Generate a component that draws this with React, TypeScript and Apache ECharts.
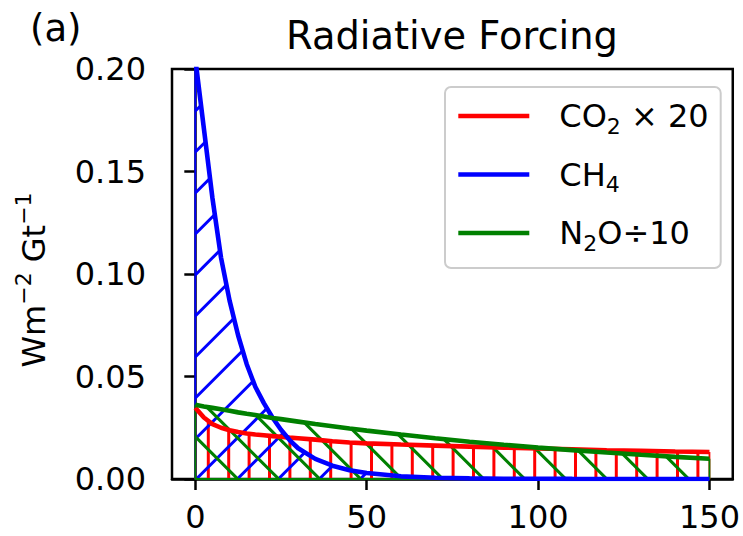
import React, { useEffect, useRef } from 'react';
import * as echarts from 'echarts';

// Time axis (years) shared by all curves
const years = [0, 2.5, 5, 7.5, 10, 12.5, 15, 17.5, 20, 22.5, 25, 27.5, 30, 35, 40, 45, 50, 60, 70, 80, 90, 100, 110, 120, 130, 140, 150];
// CO2 forcing x 20 (Wm-2 Gt-1)
const co2x20 = [0.0348, 0.0300, 0.0268, 0.0250, 0.0238, 0.0229, 0.0222, 0.0217, 0.0213, 0.0209, 0.0206, 0.0202, 0.0199, 0.0192, 0.0184, 0.0178, 0.0174, 0.0168, 0.0163, 0.0158, 0.0153, 0.0149, 0.0145, 0.0140, 0.0137, 0.0134, 0.0132];
// CH4 forcing
const ch4 = [0.205, 0.171, 0.137, 0.108, 0.087, 0.070, 0.056, 0.045, 0.037, 0.030, 0.024, 0.019, 0.015, 0.0098, 0.0065, 0.0043, 0.0029, 0.0013, 0.0006, 0.0003, 0.00015, 0.0001, 0.00005, 0.00002, 0.00001, 0, 0];
// N2O forcing / 10
const n2oDiv10 = [0.0362, 0.0354, 0.0347, 0.0340, 0.0333, 0.0325, 0.0318, 0.0312, 0.0305, 0.0298, 0.0292, 0.0286, 0.0280, 0.0268, 0.0257, 0.0246, 0.0236, 0.0217, 0.0199, 0.0182, 0.0167, 0.0153, 0.0141, 0.0129, 0.0118, 0.0108, 0.0099];

const xTicks = [0, 50, 100, 150];
const seriesNames = ['CO2', 'CH4', 'N2O'];
const legendLabels: Record<string, string> = {
  CO2: '{f|CO}{sub|2}{n| × 20}',
  CH4: '{f|CH}{sub|4}',
  N2O: '{f|N}{sub|2}{n|O÷10}',
};

const FONT = 'DejaVu Sans';
const RED = '#ff0000';
const BLUE = '#0000ff';
const GREEN = '#008000';

const pairs = (vals: number[]) => years.map((t, i) => [t, vals[i]]);
const edge = (vals: number[]) => [
  [years[0], vals[0]],
  [years[0], 0],
  [years[years.length - 1], 0],
  [years[years.length - 1], vals[vals.length - 1]],
];

type Hatch = { kind: 'v' | 'ne' | 'nw'; spacing: number; phase: number; width: number };

function hatchSeries(name: string, vals: number[], color: string, h: Hatch) {
  return {
    name: name + ' hatch',
    type: 'custom',
    coordinateSystem: 'cartesian2d',
    data: [[years[0], vals[0]]],
    silent: true,
    clip: true,
    renderItem: (params: any, api: any) => {
      const pts: number[][] = years.map((t, i) => api.coord([t, vals[i]]));
      const baseY = api.coord([years[0], 0])[1];
      const xL = pts[0][0];
      const xR = pts[pts.length - 1][0];
      const topY = params.coordSys.y;
      const curveY = (x: number) => {
        for (let i = 1; i < pts.length; i++) {
          if (x <= pts[i][0]) {
            const [ax, ay] = pts[i - 1];
            const [bx, by] = pts[i];
            const f = bx === ax ? 0 : (x - ax) / (bx - ax);
            return Math.max(topY, ay + f * (by - ay));
          }
        }
        return pts[pts.length - 1][1];
      };
      const children: any[] = [];
      const seg = (x1: number, y1: number, x2: number, y2: number) => {
        if (Math.hypot(x2 - x1, y2 - y1) < 0.5) return;
        children.push({
          type: 'line',
          shape: { x1, y1, x2, y2 },
          style: { stroke: color, lineWidth: h.width, fill: null },
        });
      };
      if (h.kind === 'v') {
        let x = h.phase + Math.ceil((xL - h.phase) / h.spacing) * h.spacing;
        for (; x <= xR; x += h.spacing) seg(x, baseY, x, curveY(x));
      } else {
        const s = h.kind === 'ne' ? -1 : 1; // y = c + s*x
        const cs = [xL, xR].flatMap((x) => [baseY - s * x, topY - s * x]);
        const cMin = Math.min(...cs);
        const cMax = Math.max(...cs);
        let c = h.phase + Math.ceil((cMin - h.phase) / h.spacing) * h.spacing;
        for (; c <= cMax; c += h.spacing) {
          let start: number[] | null = null;
          let prev: number[] | null = null;
          for (let x = xL; x <= xR + 1e-6; x += 0.5) {
            const y = c + s * x;
            const inside = y <= baseY && y >= curveY(x);
            if (inside) {
              if (!start) start = [x, y];
              prev = [x, y];
            } else if (start && prev) {
              seg(start[0], start[1], prev[0], prev[1]);
              start = null;
            }
          }
          if (start && prev) seg(start[0], start[1], prev[0], prev[1]);
        }
      }
      return { type: 'group', children };
    },
  };
}

function edgeSeries(name: string, vals: number[], color: string) {
  return {
    name: name + ' edge',
    type: 'line',
    data: edge(vals),
    symbol: 'none',
    showSymbol: false,
    silent: true,
    lineStyle: { color, width: 1.8 },
    itemStyle: { color },
    clip: true,
  };
}

function mainSeries(name: string, vals: number[], color: string) {
  return {
    name,
    type: 'line',
    data: pairs(vals),
    symbol: 'none',
    showSymbol: false,
    silent: true,
    lineStyle: { color, width: 4.6 },
    itemStyle: { color },
    clip: true,
  };
}

export default function App() {
  const ref = useRef<HTMLDivElement>(null);
  useEffect(() => {
    const chart = echarts.init(ref.current!, undefined, { renderer: 'svg' });
    const option: any = {
      animation: false,
      backgroundColor: '#ffffff',
      textStyle: { fontFamily: FONT },
      grid: {
        left: 172,
        right: 8,
        top: 69,
        bottom: 57,
        show: true,
        borderColor: '#000',
        borderWidth: 2.5,
        backgroundColor: 'transparent',
      },
      xAxis: {
        type: 'value',
        min: -6.8,
        max: 156.8,
        splitLine: { show: false },
        axisLine: { show: true, onZero: false, lineStyle: { color: '#000', width: 2.5 } },
        axisTick: { show: true, length: 11, lineStyle: { color: '#000', width: 2.5 }, customValues: xTicks },
        axisLabel: { color: '#000', fontSize: 32, fontFamily: FONT, margin: 22, customValues: xTicks },
      },
      yAxis: {
        type: 'value',
        min: 0,
        max: 0.2,
        interval: 0.05,
        splitLine: { show: false },
        axisLine: { show: true, lineStyle: { color: '#000', width: 2.5 } },
        axisTick: { show: true, length: 11, lineStyle: { color: '#000', width: 2.5 } },
        axisLabel: {
          color: '#000',
          fontSize: 32,
          fontFamily: FONT,
          margin: 26,
          formatter: (v: number) => v.toFixed(2),
        },
      },
      legend: {
        data: seriesNames,
        orient: 'vertical',
        left: 445,
        top: 87,
        padding: [9, 12, 14, 11],
        itemWidth: 71,
        itemHeight: 14,
        itemGap: 17.5,
        selectedMode: false,
        backgroundColor: 'rgba(255,255,255,0.8)',
        borderColor: '#cccccc',
        borderWidth: 2,
        borderRadius: 6,
        itemStyle: { opacity: 0 },
        lineStyle: { width: 4.6 },
        formatter: (name: string) => legendLabels[name] || name,
        textStyle: {
          color: '#000',
          fontSize: 32,
          fontFamily: FONT,
          lineHeight: 40,
          rich: {
            f: { fontSize: 32, fontFamily: FONT, color: '#000', padding: [0, 0, 0, 25] },
            n: { fontSize: 32, fontFamily: FONT, color: '#000' },
            sub: { fontSize: 22, fontFamily: FONT, color: '#000', padding: [20, 0, 0, 0] },
          },
        },
      },
      graphic: [
        {
          type: 'text',
          x: 30,
          y: 28,
          style: {
            text: '(a)',
            fontSize: 37,
            fontFamily: FONT,
            fill: '#000',
            textAlign: 'left',
            textVerticalAlign: 'middle',
          },
        },
        {
          type: 'text',
          x: 452,
          y: 35,
          style: {
            text: 'Radiative Forcing',
            fontSize: 38.4,
            fontFamily: FONT,
            fill: '#000',
            textAlign: 'center',
            textVerticalAlign: 'middle',
          },
        },
        {
          type: 'text',
          x: 34,
          y: 280,
          rotation: Math.PI / 2,
          style: {
            text: '{n|Wm}{sup|−2}{n| Gt}{sup|−1}',
            fontSize: 32,
            fontFamily: FONT,
            fill: '#000',
            lineHeight: 40,
            textAlign: 'center',
            textVerticalAlign: 'middle',
            rich: {
              n: { fontSize: 32, fontFamily: FONT, fill: '#000' },
              sup: { fontSize: 22, fontFamily: FONT, fill: '#000', padding: [0, 0, 21, 0] },
            },
          },
        },
      ],
      series: [
        hatchSeries('CO2', co2x20, RED, { kind: 'v', spacing: 20.4, phase: 4.3, width: 3 }),
        hatchSeries('CH4', ch4, BLUE, { kind: 'ne', spacing: 41, phase: 19.3, width: 3 }),
        hatchSeries('N2O', n2oDiv10, GREEN, { kind: 'nw', spacing: 41, phase: 36.3, width: 3 }),
        edgeSeries('CO2', co2x20, RED),
        edgeSeries('CH4', ch4, BLUE),
        edgeSeries('N2O', n2oDiv10, GREEN),
        mainSeries('CO2', co2x20, RED),
        mainSeries('CH4', ch4, BLUE),
        mainSeries('N2O', n2oDiv10, GREEN),
      ],
    };
    chart.setOption(option);
    return () => chart.dispose();
  }, []);
  return <div ref={ref} style={{ position: 'fixed', left: 0, top: 0, width: 743, height: 536 }} />;
}
